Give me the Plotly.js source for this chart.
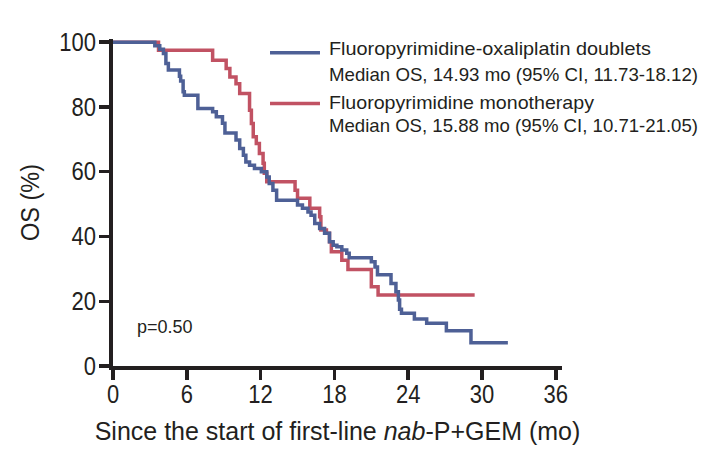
<!DOCTYPE html>
<html>
<head>
<meta charset="utf-8">
<script src="https://cdn.plot.ly/plotly-3.0.1.min.js"></script>
<style>
  html, body { margin: 0; padding: 0; background: #ffffff; }
  #chart { width: 711px; height: 457px; }
</style>
</head>
<body>
<div id="chart"></div>
<script>
// Kaplan-Meier step data (months, OS %)
const doubletTime = [0, 3.4, 3.8, 4.1, 4.3, 4.5, 5.4, 5.5, 5.7, 5.8, 6.9, 8.1, 8.4, 8.9, 9.1, 10.0, 10.3, 10.6, 10.8, 11.1, 11.5, 12.06, 12.5, 12.7, 13.0, 13.3, 15.0, 15.4, 15.85, 16.1, 16.4, 16.8, 17.2, 17.6, 17.9, 18.2, 18.6, 19.0, 19.2, 21.0, 21.3, 21.5, 22.6, 23.0, 23.2, 23.3, 23.45, 24.5, 25.5, 27.1, 29.1, 32.1];
const doubletOS   = [100, 98.9, 97.8, 96.5, 93.4, 91.4, 89.5, 88, 84.7, 83.6, 79.5, 78.5, 77, 75, 72, 69.8, 67.2, 65.1, 63, 62, 61, 60, 58.4, 56.4, 54.3, 51.2, 49.7, 48.7, 47.6, 46.6, 44, 42.5, 41, 38.4, 37.3, 36.8, 35.8, 34.8, 33.4, 32.2, 30.6, 28.2, 25.5, 22.9, 20.4, 17.5, 16.3, 14.5, 13.2, 10.9, 7.2, 7.2];

const monoTime = [0, 3.7, 8.1, 9.2, 9.5, 10.0, 10.3, 11.1, 11.25, 11.4, 11.65, 11.9, 12.2, 12.3, 12.5, 14.8, 15.0, 16.0, 16.8, 16.9, 17.35, 17.6, 17.75, 18.6, 19.1, 21.0, 21.55, 29.4];
const monoOS   = [100, 97.5, 94.4, 91.9, 89.3, 87.2, 84.2, 79, 74.9, 70.8, 68.7, 65.6, 62.6, 59.5, 56.9, 54.3, 51.8, 48.7, 46.1, 42, 41, 38.4, 35.3, 32.7, 29.8, 24.5, 21.9, 21.9];

const xTicks = [0, 6, 12, 18, 24, 30, 36];
const yTicks = [0, 20, 40, 60, 80, 100];

const seriesNames = ['Fluoropyrimidine-oxaliplatin doublets', 'Fluoropyrimidine monotherapy'];
const medianLabels = ['Median OS, 14.93 mo (95% CI, 11.73-18.12)', 'Median OS, 15.88 mo (95% CI, 10.71-21.05)'];
const pLabel = 'p=0.50';

const BLUE = '#4e6096';
const RED = '#c15263';
const INK = '#231f20';
const FONT = '"Liberation Sans", Arial, sans-serif';

const traces = [
  { x: monoTime, y: monoOS, type: 'scatter', mode: 'lines', line: { shape: 'hv', color: RED, width: 3.5 }, name: seriesNames[1], hoverinfo: 'x+y' },
  { x: doubletTime, y: doubletOS, type: 'scatter', mode: 'lines', line: { shape: 'hv', color: BLUE, width: 3.5 }, name: seriesNames[0], hoverinfo: 'x+y' }
];

// legend drawn as keys + text lines
const keyX0 = 0.3497, keyX1 = 0.461, textX = 0.477;
const keyY = [0.958, 0.803];
const lineY = [0.970, 0.892, 0.805, 0.735];
const legendLines = [seriesNames[0], medianLabels[0], seriesNames[1], medianLabels[1]];
const legendWidths = [322, 369, 265, 369]; // widths of the legend lines in the reference (px)

const annotations = legendLines.map((t, i) => ({
  xref: 'paper', yref: 'paper', x: textX, y: lineY[i], xanchor: 'left', yanchor: 'middle', align: 'left',
  text: t, showarrow: false, font: { family: FONT, size: 19, color: INK }
}));
annotations.push({
  xref: 'x', yref: 'y', x: 1.8, y: 12, xanchor: 'left', yanchor: 'middle', align: 'left',
  text: pLabel, showarrow: false, font: { family: FONT, size: 18, color: INK }
});

const shapes = [
  { type: 'line', xref: 'paper', yref: 'paper', x0: keyX0, x1: keyX1, y0: keyY[0], y1: keyY[0], line: { color: BLUE, width: 3.5 } },
  { type: 'line', xref: 'paper', yref: 'paper', x0: keyX0, x1: keyX1, y0: keyY[1], y1: keyY[1], line: { color: RED, width: 3.5 } }
];

const axisCommon = {
  showline: true, linewidth: 4, linecolor: INK,
  ticks: 'outside', ticklen: 10, tickwidth: 3.5, tickcolor: INK,
  showgrid: false, zeroline: false,
  tickfont: { family: FONT, size: 25, color: INK }
};

const layout = {
  width: 711, height: 457,
  margin: { l: 113, r: 149, t: 39, b: 91 },
  paper_bgcolor: '#ffffff', plot_bgcolor: '#ffffff',
  showlegend: false,
  xaxis: Object.assign({}, axisCommon, {
    range: [0, 36.5], tickmode: 'array', tickvals: xTicks, ticktext: xTicks.map(String),
    ticklabelstandoff: -7,
    title: { text: 'Since the start of first-line <i>nab</i>-P+GEM (mo)', font: { family: FONT, size: 25, color: INK }, standoff: 16 }
  }),
  yaxis: Object.assign({}, axisCommon, {
    range: [0, 101], tickmode: 'array', tickvals: yTicks, ticktext: yTicks.map(String),
    ticklabelstandoff: -2,
    title: { text: 'OS (%)', font: { family: FONT, size: 26, color: INK }, standoff: 8 }
  }),
  annotations: annotations,
  shapes: shapes
};

// emulate the condensed typeface of the reference by narrowing glyphs
function squeeze(el, factor, target) {
  if (!el) return;
  const w = el.getComputedTextLength();
  const t = target || w * factor;
  el.setAttribute('textLength', t.toFixed(1));
  el.setAttribute('lengthAdjust', 'spacingAndGlyphs');
}

Plotly.newPlot('chart', traces, layout, { displayModeBar: false, staticPlot: true }).then(gd => {
  gd.querySelectorAll('.xtick text, .ytick text').forEach(el => squeeze(el, 0.88));
  gd.querySelectorAll('.g-ytitle text').forEach(el => squeeze(el, 0, 77));
  legendWidths.forEach((w, i) => {
    squeeze(gd.querySelector('.annotation[data-index="' + i + '"] .annotation-text'), 0, w);
  });
});
</script>
</body>
</html>
